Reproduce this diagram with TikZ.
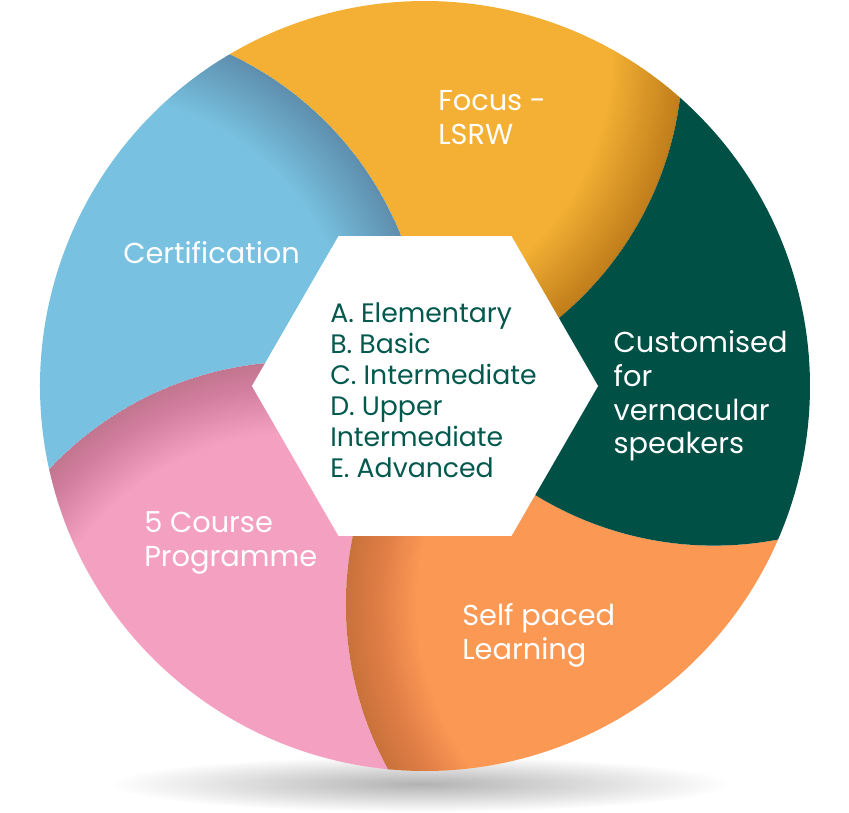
\documentclass[tikz,border=0pt]{standalone}
\usepackage{fontspec}
\setmainfont{Poppins}
\usepackage{tikz}
\usetikzlibrary{positioning,shapes.geometric}

\definecolor{certblue}{RGB}{120,193,224}
\definecolor{focusorange}{RGB}{243,176,52}
\definecolor{custgreen}{RGB}{0,80,70}
\definecolor{paceorange}{RGB}{251,152,84}
\definecolor{coursepink}{RGB}{244,160,193}
\definecolor{levelgreen}{RGB}{3,89,77}

\begin{document}
\begin{tikzpicture}[x=0.025cm, y=0.025cm,
    lbl/.style={%
      text=white, inner sep=0pt, anchor=base west, align=left,
      font=\fontsize{20.5}{24}\selectfont
    },
    lvl/.style={%
      text=levelgreen, inner sep=0pt, anchor=base west, align=left,
      font=\fontsize{19}{22}\selectfont
    },
    hexa/.style={%
      regular polygon, regular polygon sides=6, draw=none, fill=white,
      minimum size=8.65cm, inner sep=0pt
    },
    rim/.style={black, opacity=0.009}
]
    \useasboundingbox (-425,-426) rectangle (424,386);
    % shadow under the ring
    \shade[inner color=black!30, outer color=white] (-5,-398) ellipse [x radius=310, y radius=28];

    % Focus
    \begin{scope}
      \clip (0,0) arc[start angle=284.2, end angle=352.8, radius=341.6]
                  arc[start angle=48.5, end angle=120.5, radius=385]
                  arc[start angle=424.8, end angle=356.2, radius=341.6] -- cycle;
      \fill[focusorange] (0,0) circle (390);
      \foreach \w in {4,8,...,100}
        \draw[rim, line width=\w pt] (0,0) arc[start angle=284.2, end angle=372.8, radius=341.6];
    \end{scope}
    % Certification
    \begin{scope}
      \clip (0,0) arc[start angle=356.2, end angle=424.8, radius=341.6]
                  arc[start angle=120.5, end angle=192.5, radius=385]
                  arc[start angle=496.8, end angle=428.2, radius=341.6] -- cycle;
      \fill[certblue] (0,0) circle (390);
      \foreach \w in {4,8,...,100}
        \draw[rim, line width=\w pt] (0,0) arc[start angle=356.2, end angle=444.8, radius=341.6];
    \end{scope}
    % 5 Course
    \begin{scope}
      \clip (0,0) arc[start angle=68.2, end angle=136.8, radius=341.6]
                  arc[start angle=-167.5, end angle=-95.5, radius=385]
                  arc[start angle=208.8, end angle=140.2, radius=341.6] -- cycle;
      \fill[coursepink] (0,0) circle (390);
      \foreach \w in {4,8,...,100}
        \draw[rim, line width=\w pt] (0,0) arc[start angle=68.2, end angle=156.8, radius=341.6];
    \end{scope}
    % Self paced
    \begin{scope}
      \clip (0,0) arc[start angle=140.2, end angle=208.8, radius=341.6]
                  arc[start angle=-95.5, end angle=-23.5, radius=385]
                  arc[start angle=280.8, end angle=212.2, radius=341.6] -- cycle;
      \fill[paceorange] (0,0) circle (390);
      \foreach \w in {4,8,...,100}
        \draw[rim, line width=\w pt] (0,0) arc[start angle=140.2, end angle=228.8, radius=341.6];
    \end{scope}
    % Customised
    \begin{scope}
      \clip (0,0) arc[start angle=212.2, end angle=280.8, radius=341.6]
                  arc[start angle=-23.5, end angle=48.5, radius=385]
                  arc[start angle=352.8, end angle=284.2, radius=341.6] -- cycle;
      \fill[custgreen] (0,0) circle (390);
    \end{scope}

    \node[hexa] (hex) at (0,0) {};
    \node[lvl] (levels) at ([shift={(-95,-91.2)}]hex.center)
      {A. Elementary\\B. Basic\\C. Intermediate\\D. Upper\\Intermediate\\E. Advanced};

    \node[lbl] (focus) at (13,241.3)   {Focus -\\LSRW};
    \node[lbl] (cert)  at (-302,123)   {Certification};
    \node[lbl] (cust)  [right = 0.375cm of hex.east, yshift=-0.25cm]
      {Customised\\for\\vernacular\\speakers};
    \node[lbl] (pace)  at (37,-273.7)  {Self paced\\Learning};
    \node[lbl] (course) at (-281,-180.7) {5 Course\\Programme};
\end{tikzpicture}
\end{document}
